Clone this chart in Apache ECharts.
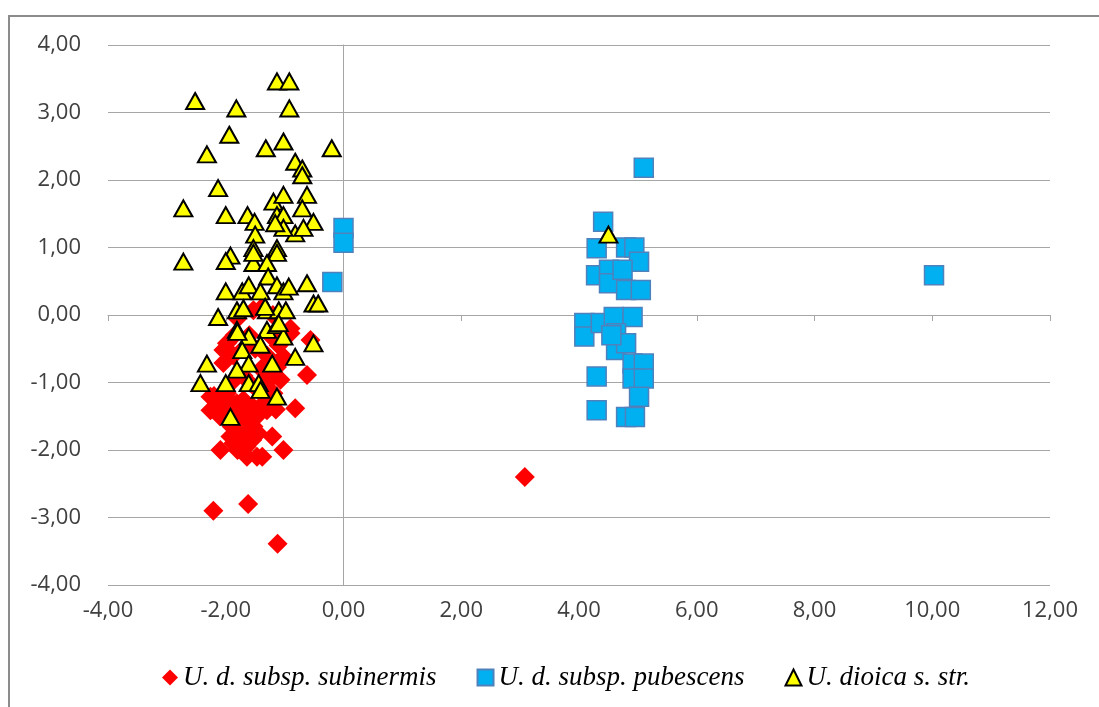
<!DOCTYPE html>
<html>
<head>
<meta charset="utf-8">
<script src="https://cdn.jsdelivr.net/npm/echarts@6/dist/echarts.min.js"></script>
<style>
  html, body { margin: 0; padding: 0; background: #ffffff; }
  #chart { width: 1099px; height: 707px; }
</style>
</head>
<body>
<div id="chart"></div>
<script>
// Axis ranges and tick labels
const xMin = -4, xMax = 12, xStep = 2;
const yMin = -4, yMax = 4, yStep = 1;

const seriesNames = ['U. d. subsp. subinermis', 'U. d. subsp. pubescens', 'U. dioica s. str.'];

// Scores of the individual specimens (axis 1, axis 2)
const subinermis = [
  [3.08, -2.40], [-2.21, -2.90], [-1.62, -2.80], [-1.12, -3.39],
  [-0.62, -0.89], [-0.82, -1.38], [-1.21, -1.80], [-1.02, -2.00],
  [-1.64, -2.10], [-1.47, -2.10], [-1.38, -2.10], [-2.09, -2.00],
  [-1.92, -1.80], [-1.64, -1.76], [-2.26, -1.21], [-2.26, -1.41],
  [-2.04, -0.52], [-1.98, -0.42], [-0.90, -0.27], [-0.56, -0.37],
  [-1.30, -1.41], [-1.47, -1.50], [-1.75, -1.76], [-1.87, -1.90],
  [-2.15, -1.31], [-1.70, -1.26], [-1.19, -1.16], [-1.07, -0.96],
  [-1.02, -0.62], [-1.13, -0.77], [-1.70, -0.50], [-2.04, -0.71],
  [-1.87, -0.60], [-1.53, 0.07], [-0.90, -0.20], [-1.24, -0.92],
  [-1.47, -1.10], [-1.81, -1.31], [-1.98, -1.16], [-1.53, -1.65],
  [-1.90, -1.00], [-1.80, -1.50], [-2.00, -1.40], [-1.40, -0.80],
  [-1.30, -0.60], [-1.60, -1.00], [-1.70, -0.90], [-1.40, 0.10],
  [-1.20, 0.00], [-1.85, -0.30], [-1.55, -1.35], [-1.90, -1.65],
  [-1.65, -1.95], [-1.35, -1.30], [-1.10, -0.45], [-2.20, -1.20],
  [-2.10, -1.50], [-1.95, -1.25], [-1.75, -1.45], [-1.60, -1.60],
  [-1.45, -1.75], [-1.55, -1.85], [-1.80, -2.00], [-1.30, -1.00],
  [-1.25, -0.30], [-1.60, -0.30], [-1.80, -0.05], [-1.50, -0.50],
  [-1.15, -1.40]
];

const pubescens = [
  [5.10, 2.18], [4.41, 1.38], [4.30, 0.99], [4.80, 1.00], [4.94, 1.00],
  [5.02, 0.79], [4.29, 0.59], [4.51, 0.67], [4.51, 0.47], [4.74, 0.67],
  [4.80, 0.37], [5.05, 0.37], [4.09, -0.12], [4.09, -0.32], [4.37, -0.12],
  [4.59, -0.03], [4.91, -0.03], [4.63, -0.27], [4.63, -0.52], [4.80, -0.42],
  [4.91, -0.72], [5.10, -0.72], [4.91, -0.94], [5.10, -0.94], [4.30, -0.91],
  [5.02, -1.21], [4.30, -1.41], [4.80, -1.51], [4.95, -1.51], [4.55, -0.30],
  [10.03, 0.59], [0.00, 1.29], [0.00, 1.07], [-0.19, 0.49]
];

const dioica = [
  [-1.13, 3.46], [-0.92, 3.46], [-2.52, 3.17], [-1.82, 3.06], [-0.92, 3.06],
  [-1.94, 2.67], [-2.32, 2.38], [-1.32, 2.47], [-1.02, 2.57], [-0.20, 2.47],
  [-0.82, 2.27], [-0.70, 2.17], [-0.70, 2.07], [-2.13, 1.88], [-2.72, 1.58],
  [-2.00, 1.48], [-1.19, 1.68], [-1.02, 1.78], [-0.62, 1.78], [-0.70, 1.58],
  [-0.51, 1.38], [-1.63, 1.48], [-1.51, 1.38], [-1.13, 1.48], [-1.02, 1.48],
  [-0.82, 1.21], [-0.68, 1.29], [-1.50, 1.19], [-1.02, 1.29], [-1.16, 1.36],
  [-1.53, 0.99], [-1.13, 0.99], [-1.92, 0.88], [-2.72, 0.79], [-2.00, 0.80],
  [-1.53, 0.77], [-1.53, 0.92], [-1.13, 0.92], [-1.30, 0.77], [-1.28, 0.57],
  [-0.62, 0.47], [-2.00, 0.35], [-1.72, 0.35], [-1.61, 0.44], [-1.41, 0.35],
  [-1.13, 0.44], [-1.02, 0.35], [-0.93, 0.42], [-0.51, 0.17], [-0.43, 0.17],
  [-2.13, -0.03], [-1.81, 0.07], [-1.70, 0.10], [-1.30, 0.07], [-1.10, 0.07],
  [-0.98, 0.07], [-1.33, 0.12], [-1.81, -0.22], [-1.61, -0.32], [-1.30, -0.22],
  [-1.13, -0.15], [-1.02, -0.32], [-1.41, -0.44], [-0.51, -0.42], [-1.72, -0.52],
  [-1.61, -0.72], [-0.82, -0.62], [-2.32, -0.72], [-1.81, -0.81], [-1.21, -0.72],
  [-2.43, -1.01], [-2.00, -1.01], [-1.61, -1.01], [-1.44, -1.01], [-1.41, -1.11],
  [-1.13, -1.21], [-1.92, -1.51], [-1.10, -0.12], [-1.80, -0.25], [4.50, 1.19]
];

const fmt = v => v.toFixed(2).replace('.', ',');
const gridColor = '#a6a6a6';
const labelStyle = { fontFamily: 'Open Sans', fontSize: 22, color: '#404040' };

const chart = echarts.init(document.getElementById('chart'), null, { renderer: 'canvas' });

chart.setOption({
  backgroundColor: '#ffffff',
  animation: false,
  graphic: [{
    type: 'rect',
    shape: { x: 9, y: 16, width: 1200, height: 800 },
    style: { fill: 'none', stroke: '#8c8c8c', lineWidth: 2 },
    silent: true, z: -10
  }],
  grid: { left: 108, right: 49, top: 45, bottom: 122, containLabel: false },
  xAxis: [
    { // axis line through y = 0 with its tick marks
      type: 'value', min: xMin, max: xMax, interval: xStep,
      axisLine: { onZero: true, lineStyle: { color: gridColor, width: 1 } },
      axisTick: { show: true, length: 6, lineStyle: { color: gridColor } },
      axisLabel: { show: false }, splitLine: { show: false }
    },
    { // tick labels along the bottom edge
      type: 'value', min: xMin, max: xMax, interval: xStep, position: 'bottom',
      axisLine: { show: false, onZero: false }, axisTick: { show: false },
      axisLabel: Object.assign({ margin: 15, formatter: fmt }, labelStyle),
      splitLine: { show: false }
    }
  ],
  yAxis: [
    { // axis line through x = 0
      type: 'value', min: yMin, max: yMax, interval: yStep,
      axisLine: { onZero: true, lineStyle: { color: gridColor, width: 1 } },
      axisTick: { show: false }, axisLabel: { show: false },
      splitLine: { show: true, lineStyle: { color: gridColor, width: 1 } }
    },
    { // tick labels along the left edge
      type: 'value', min: yMin, max: yMax, interval: yStep, position: 'left',
      axisLine: { show: false, onZero: false }, axisTick: { show: false },
      axisLabel: Object.assign({ margin: 27, formatter: fmt }, labelStyle),
      splitLine: { show: false }
    }
  ],
  legend: {
    left: 157, top: 659,
    itemGap: 40, itemWidth: 16, itemHeight: 16,
    textStyle: { fontFamily: 'Liberation Serif', fontStyle: 'italic', fontSize: 27, color: '#000000' },
    data: seriesNames
  },
  series: [
    {
      name: seriesNames[0], type: 'scatter', xAxisIndex: 0, yAxisIndex: 0,
      symbol: 'diamond', symbolSize: [20, 20],
      itemStyle: { color: '#ff0000', opacity: 1 },
      data: subinermis, z: 2
    },
    {
      name: seriesNames[1], type: 'scatter', xAxisIndex: 0, yAxisIndex: 0,
      symbol: 'rect', symbolSize: [19, 19],
      itemStyle: { color: '#00b0f0', borderColor: '#4f81bd', borderWidth: 1.5, opacity: 1 },
      data: pubescens, z: 3
    },
    {
      name: seriesNames[2], type: 'scatter', xAxisIndex: 0, yAxisIndex: 0,
      symbol: 'triangle', symbolSize: [18, 16],
      itemStyle: { color: '#ffff00', borderColor: '#000000', borderWidth: 2, opacity: 1 },
      data: dioica, z: 4
    }
  ]
});
</script>
</body>
</html>
